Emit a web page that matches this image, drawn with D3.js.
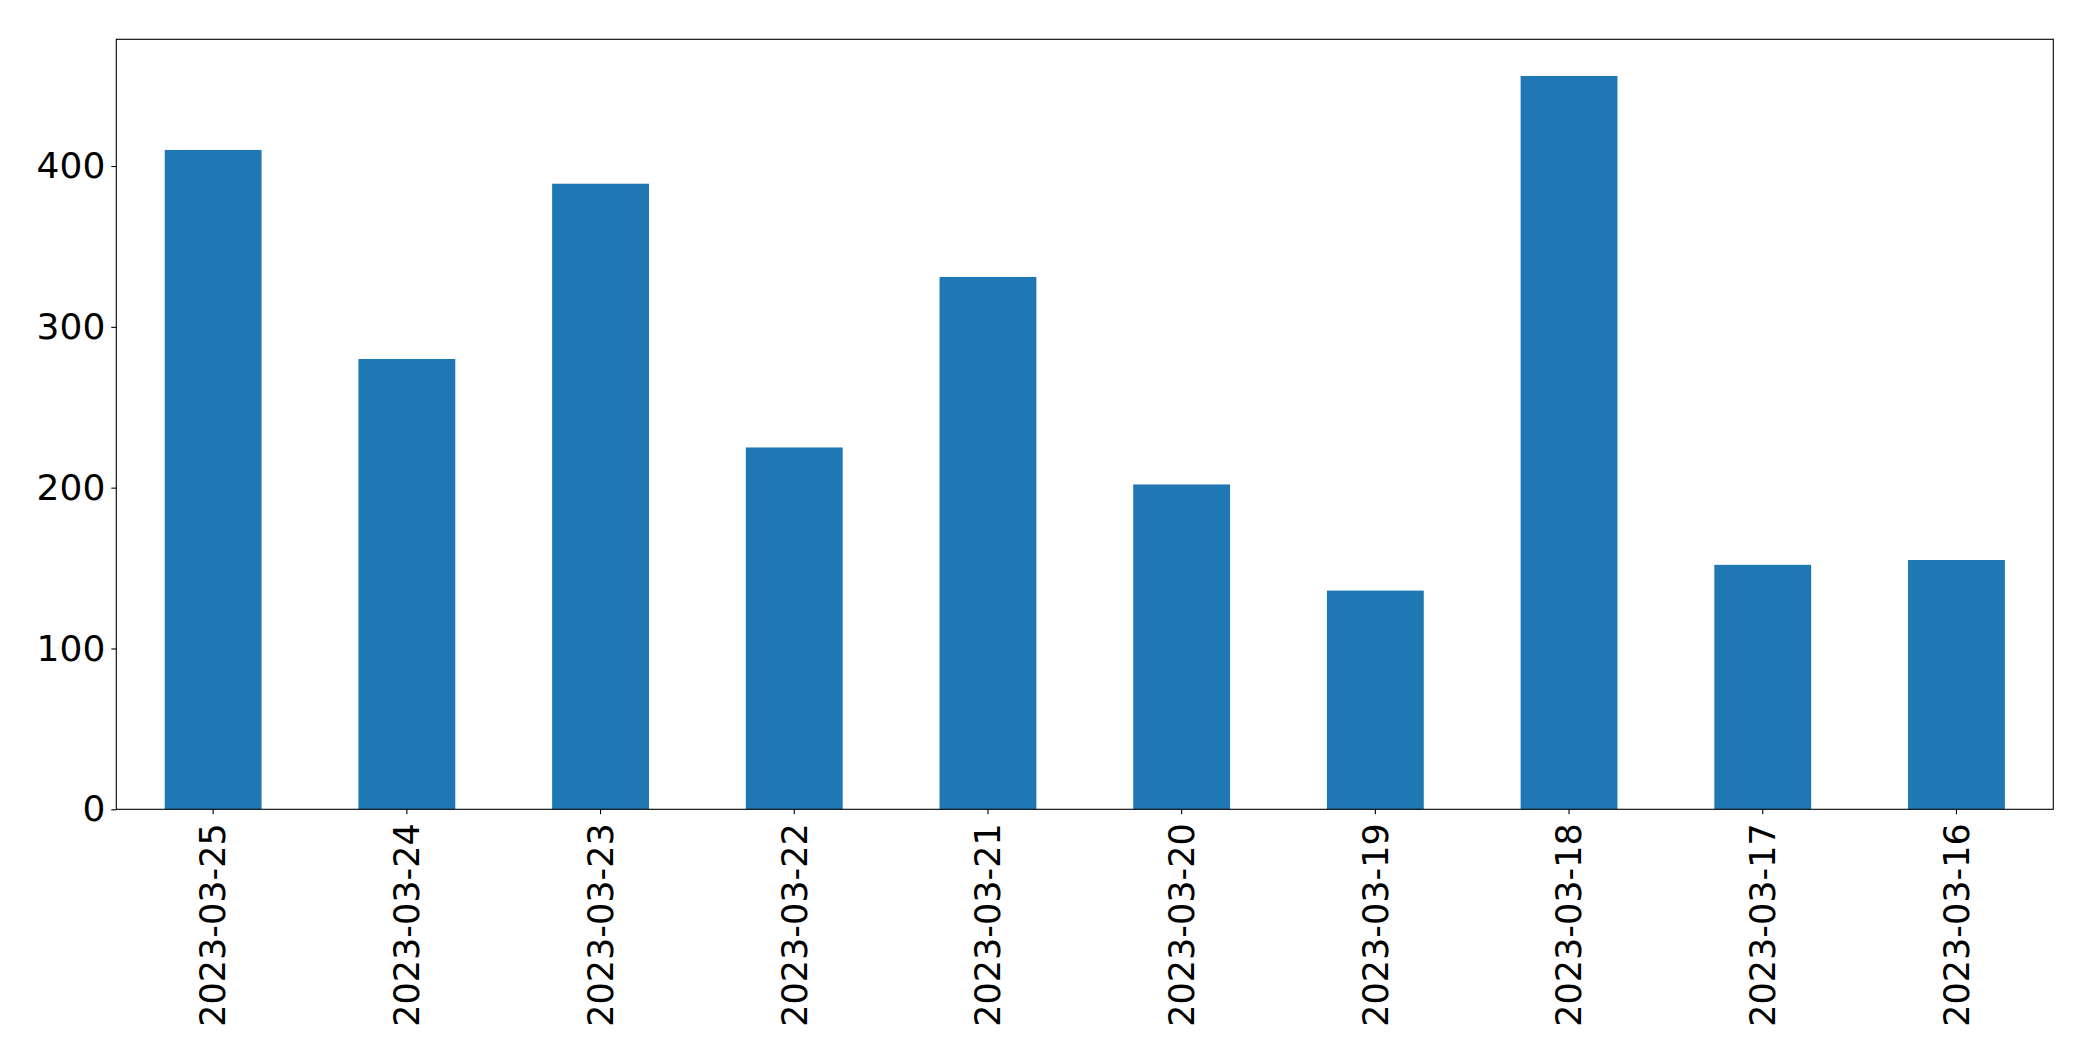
<!DOCTYPE html>
<html>
<head>
<meta charset="utf-8">
<script src="https://cdn.jsdelivr.net/npm/d3@7"></script>
<style>
  body { margin: 0; background: #fff; }
  svg { display: block; font-family: "DejaVu Sans", sans-serif; }
</style>
</head>
<body>
<svg id="chart"></svg>
<script>
// values
const dates = ["2023-03-25", "2023-03-24", "2023-03-23", "2023-03-22", "2023-03-21",
               "2023-03-20", "2023-03-19", "2023-03-18", "2023-03-17", "2023-03-16"];
const counts = [410, 280, 389, 225, 331, 202, 136, 456, 152, 155];
const yTicks = [0, 100, 200, 300, 400];

const width = 2093, height = 1061;
const margin = {top: 39.3, right: 2093 - 2053.3, bottom: 1061 - 809.3, left: 116.3};
const innerW = width - margin.left - margin.right;
const innerH = height - margin.top - margin.bottom;

const svg = d3.select("#chart")
    .attr("width", width)
    .attr("height", height);

const g = svg.append("g")
    .attr("transform", `translate(${margin.left},${margin.top})`);

// band scale mimicking matplotlib's bar layout (width 0.5, xlim -0.5..n-0.5)
const x = d3.scaleBand()
    .domain(dates)
    .range([0, innerW])
    .paddingInner(0.5)
    .paddingOuter(0.25);

const yMax = d3.max(counts) * 1.05;
const y = d3.scaleLinear()
    .domain([0, yMax])
    .range([innerH, 0]);

g.selectAll("rect.bar")
    .data(dates)
    .join("rect")
    .attr("class", "bar")
    .attr("x", d => x(d))
    .attr("width", x.bandwidth())
    .attr("y", (d, i) => y(counts[i]))
    .attr("height", (d, i) => innerH - y(counts[i]))
    .attr("fill", "#1f77b4");

// y axis
const yAxis = g.append("g")
    .call(d3.axisLeft(y).tickValues(yTicks).tickSize(5).tickPadding(6).tickFormat(d3.format("d")));
yAxis.select(".domain").remove();
yAxis.selectAll("line").attr("stroke", "#000").attr("stroke-width", 1.1);
yAxis.selectAll("text")
    .attr("font-size", "36px")
    .attr("fill", "#000")
    .attr("font-family", "DejaVu Sans, sans-serif");

// x axis with rotated labels
const xAxis = g.append("g")
    .attr("transform", `translate(0,${innerH})`)
    .call(d3.axisBottom(x).tickSize(5).tickPadding(0));
xAxis.select(".domain").remove();
xAxis.selectAll("line").attr("stroke", "#000").attr("stroke-width", 1.1);
xAxis.selectAll("text")
    .attr("font-size", "35px")
    .attr("fill", "#000")
    .attr("font-family", "DejaVu Sans, sans-serif")
    .attr("text-anchor", "end")
    .attr("dy", "0.35em")
    .attr("transform", "translate(0,14) rotate(-90)")
    .attr("y", 0)
    .attr("x", 0);

// frame
g.append("rect")
    .attr("x", 0)
    .attr("y", 0)
    .attr("width", innerW)
    .attr("height", innerH)
    .attr("fill", "none")
    .attr("stroke", "#000")
    .attr("stroke-width", 1.1);
</script>
</body>
</html>
